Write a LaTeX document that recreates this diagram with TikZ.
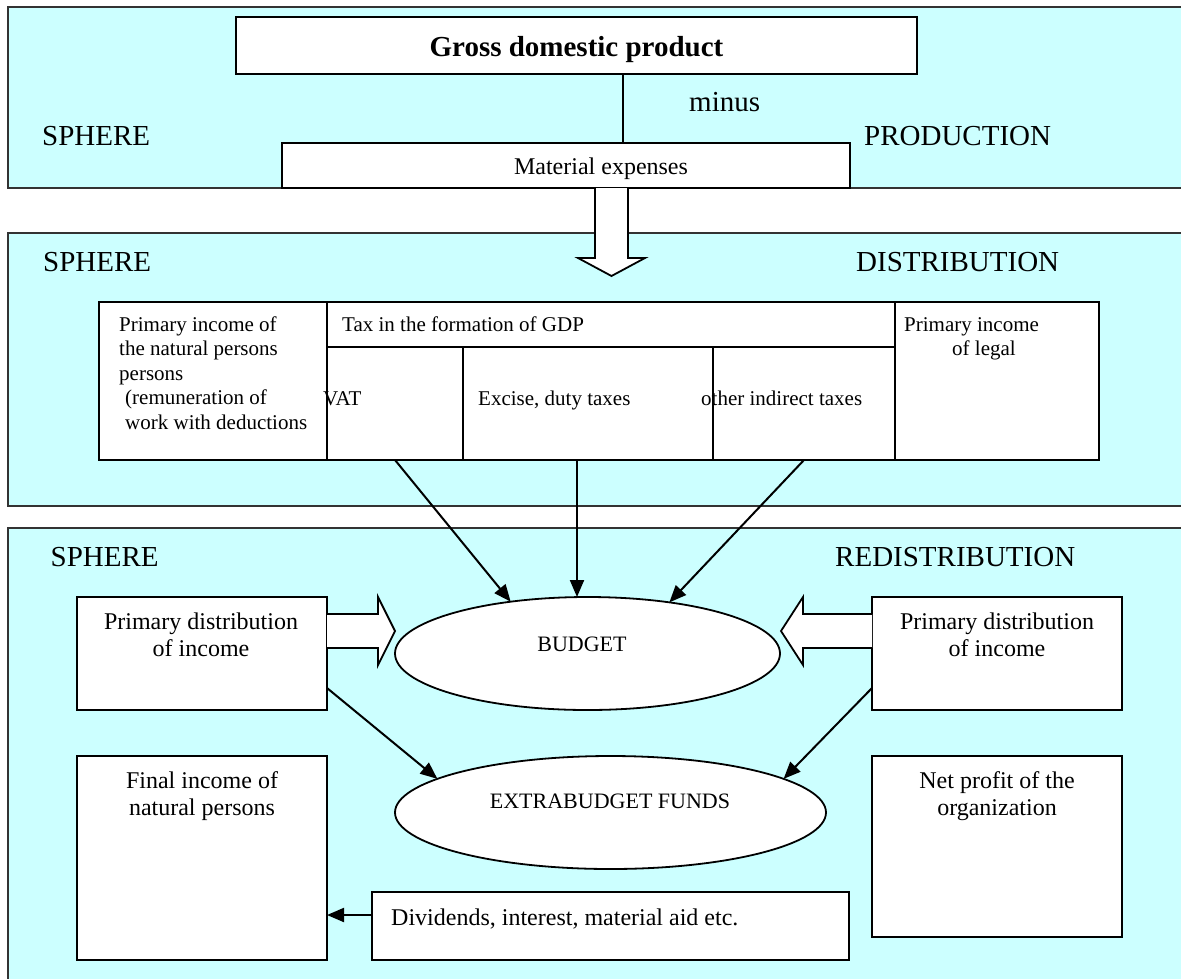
\documentclass[tikz,border=0pt]{standalone}
\usepackage{fontspec}
\setmainfont{Liberation Serif}
\usetikzlibrary{arrows.meta,shapes.geometric}
\definecolor{sky}{RGB}{204,255,255}
\newcommand\myfs[1]{\fontsize{#1}{#1}\selectfont}
\begin{document}
\begin{tikzpicture}[x=1pt,y=-1pt,
  panel/.style={draw=black!80, line width=1.6pt, fill=sky, rectangle, anchor=north west, inner sep=0pt, outer sep=0pt},
  box/.style={draw, line width=1.8pt, fill=white, rectangle, anchor=north west, inner sep=0pt, outer sep=0pt},
  oval/.style={draw, line width=1.8pt, fill=white, ellipse, inner sep=0pt, outer sep=0pt},
  lt/.style={inner sep=0pt, anchor=base west},
  ct/.style={inner sep=0pt, anchor=base},
  big/.style={font=\myfs{29}},
  mid/.style={font=\myfs{24}},
  small/.style={font=\myfs{21}},
  ell/.style={font=\myfs{22}},
  arr/.style={line width=2pt, -{Triangle[length=17pt,width=14pt]}},
  hollow/.style={draw, line width=1.8pt, fill=white, line join=miter},
  conn/.style={line width=1.8pt}]
\useasboundingbox (0,0) rectangle (1181,978);

% panels
\node[panel, minimum width=1190pt, minimum height=181pt] (p1) at (8,7) {};
\node[panel, minimum width=1190pt, minimum height=273pt] (p2) at (8,233) {};
\node[panel, minimum width=1190pt, minimum height=470pt] (p3) at (8,528) {};

% production sphere
\node[box, minimum width=681pt, minimum height=57pt] (gdp) at (236,17) {};
\node[box, minimum width=568pt, minimum height=45pt] (mat) at (282,143) {};
\coordinate (mx) at (623,0);
\draw[conn] (gdp.south -| mx) -- (mat.north -| mx);
\node[ct, big, font=\myfs{29}\bfseries] (gdpt) at (576.5,56.5) {Gross domestic product};
\node[lt, big] (minus) at (689,111) {minus};
\node[lt, big] (s1) at (42,145.5) {SPHERE};
\node[lt, big] (prod) at (864,145.5) {PRODUCTION};
\node[ct, mid] (matt) at (601,174) {Material expenses};

% hollow arrow down
\draw[hollow] (595,188) -- (595,258) -- (578,258) -- (611.5,276) -- (645,258) -- (628,258) -- (628,188);

% distribution sphere
\node[lt, big] (s2) at (43,271) {SPHERE};
\node[lt, big] (dist) at (856,271) {DISTRIBUTION};
\node[box, minimum width=228pt, minimum height=158pt] (nat) at (99,302) {};
\node[box, minimum width=568pt, minimum height=45pt] (tax) at (327,302) {};
\node[box, minimum width=136pt, minimum height=113pt] (vat) at (327,347) {};
\node[box, minimum width=250pt, minimum height=113pt] (exc) at (463,347) {};
\node[box, minimum width=182pt, minimum height=113pt] (oth) at (713,347) {};
\node[box, minimum width=204pt, minimum height=158pt] (leg) at (895,302) {};

\node[lt, small] (n1) at (119,331) {Primary income of};
\node[lt, small] (n2) at (119,355.5) {the natural persons};
\node[lt, small] (n3) at (119,380) {persons};
\node[lt, small] (n4) at (125,404.5) {(remuneration of};
\node[lt, small] (n5) at (125,429) {work with deductions};
\node[lt, small] (taxt) at (342,331) {Tax in the formation of GDP};
\node[lt, small] (vatt) at (323,405) {VAT};
\node[lt, small] (exct) at (478,405) {Excise, duty taxes};
\node[lt, small] (otht) at (701,405) {other indirect taxes};
\node[lt, small] (l1) at (904,331) {Primary income};
\node[lt, small] (l2) at (952,355.5) {of legal};

% redistribution sphere
\node[lt, big] (s3) at (50.5,566) {SPHERE};
\node[lt, big] (redi) at (835,566) {REDISTRIBUTION};

\node[box, minimum width=250pt, minimum height=113pt] (pdl) at (77,597) {};
\node[box, minimum width=250pt, minimum height=113pt] (pdr) at (872,597) {};
\node[box, minimum width=250pt, minimum height=204pt] (fin) at (77,756) {};
\node[box, minimum width=250pt, minimum height=181pt] (net) at (872,756) {};
\node[box, minimum width=477pt, minimum height=68pt] (div) at (372,892) {};
\node[oval, minimum width=385pt, minimum height=113pt] (budget) at (587.5,653.5) {};
\node[oval, minimum width=431pt, minimum height=113pt] (ext) at (610.5,812.5) {};

\node[ct, mid] (pl1) at (201,629) {Primary distribution};
\node[ct, mid] (pl2) at (201,656) {of income};
\node[ct, mid] (pr1) at (997,629) {Primary distribution};
\node[ct, mid] (pr2) at (997,656) {of income};
\node[ct, ell] (budt) at (582,651) {BUDGET};
\node[ct, ell] (extt) at (610,808) {EXTRABUDGET FUNDS};
\node[ct, mid] (f1) at (202,788) {Final income of};
\node[ct, mid] (f2) at (202,815) {natural persons};
\node[ct, mid] (nt1) at (997,788) {Net profit of the};
\node[ct, mid] (nt2) at (997,815) {organization};
\node[lt, mid] (divt) at (391,925) {Dividends, interest, material aid etc.};

% hollow arrows into budget
\draw[hollow] (327,614) -- (378,614) -- (378,597) -- (395,631) -- (378,665) -- (378,648) -- (327,648);
\draw[hollow] (872,614) -- (803,614) -- (803,597) -- (781,631) -- (803,665) -- (803,648) -- (872,648);

% connectors
\draw[arr] (vat.south) -- (budget.146);
\coordinate[xshift=-11pt] (exs) at (exc.south);
\draw[arr] (exs) -- (exs |- budget.north);
\draw[arr] (oth.south) -- (budget.32);
\coordinate[yshift=22pt] (pls) at (pdl.south east);
\draw[arr] (pls) -- (ext.169);
\coordinate[yshift=22pt] (prs) at (pdr.south west);
\draw[arr] (prs) -- (ext.11);
\coordinate[yshift=11pt] (dvs) at (div.west);
\draw[arr] (dvs) -- (dvs -| fin.east);
\end{tikzpicture}
\end{document}
